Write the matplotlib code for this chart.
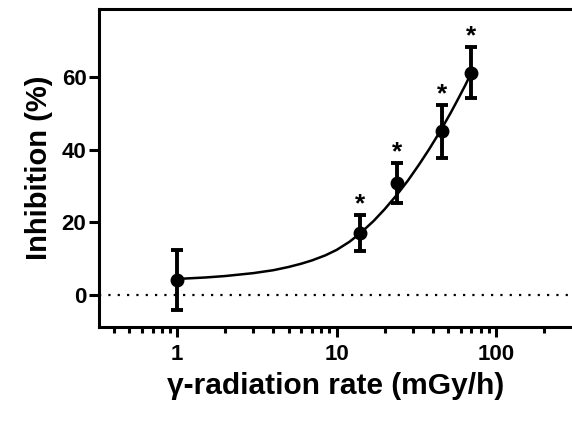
import matplotlib
matplotlib.use("Agg")
import matplotlib.pyplot as plt
from matplotlib.ticker import LogLocator, NullFormatter

plt.rcParams['font.family'] = ['Liberation Sans', 'DejaVu Sans']
plt.rcParams['font.weight'] = 'bold'

# measured points
dose_rate = [1, 14, 24, 46, 70]
inhibition = [4.1, 17.1, 30.8, 45.1, 61.2]
err = [8.2, 4.9, 5.6, 7.3, 7.1]
significant = [False, True, True, True, True]

# fitted curve
curve_x = [1, 1.5, 2, 3, 4, 5, 6, 7, 8.5, 10, 12, 14, 17, 20, 24, 28,
           33, 38, 42, 46, 52, 58, 64, 70]
curve_y = [4.4, 4.8, 5.2, 6.0, 6.8, 7.7, 8.6, 9.5, 10.9, 12.4, 14.6, 16.9,
           20.3, 23.6, 27.7, 31.5, 36.0, 40.1, 43.2, 46.1, 50.2, 54.1, 57.7, 61.2]

fig = plt.figure(figsize=(5.72, 4.24), dpi=100)
ax = fig.add_axes([0.173, 0.229, 0.827, 0.749])

ax.axhline(0, color='black', lw=1.6, linestyle=(0, (1, 3.2)), zorder=1)
ax.plot(curve_x, curve_y, color='black', lw=1.8, zorder=2)
ax.errorbar(dose_rate, inhibition, yerr=err, fmt='o', color='black',
            markersize=9, elinewidth=2.8, capsize=4, capthick=2.8, zorder=3)

for x, y, e, s in zip(dose_rate, inhibition, err, significant):
    if s:
        ax.annotate('*', (x, y + e), xytext=(0, -1), textcoords='offset points',
                    ha='center', va='bottom', fontsize=19, fontweight='bold')

ax.set_xscale('log')
ax.set_xlim(0.323, 299)
ax.set_ylim(-8.8, 78.6)
ax.set_yticks([0, 20, 40, 60])
ax.set_xticks([1, 10, 100])
ax.set_xticklabels(['1', '10', '100'])
ax.xaxis.set_minor_locator(LogLocator(base=10, subs=range(2, 10)))
ax.xaxis.set_minor_formatter(NullFormatter())

for side in ['left', 'bottom', 'top']:
    ax.spines[side].set_linewidth(2.2)
ax.spines['right'].set_visible(False)

ax.tick_params(axis='both', which='major', length=7, width=2.2, labelsize=16, pad=2)
ax.tick_params(axis='x', which='major', pad=5)
ax.tick_params(axis='x', which='minor', length=4.5, width=2.2)

ax.set_ylabel('Inhibition (%)', fontsize=21, fontweight='bold', labelpad=6)
ax.set_xlabel('γ-radiation rate (mGy/h)', fontsize=21.5, fontweight='bold', labelpad=5)

fig.savefig('out.png', dpi=100)
